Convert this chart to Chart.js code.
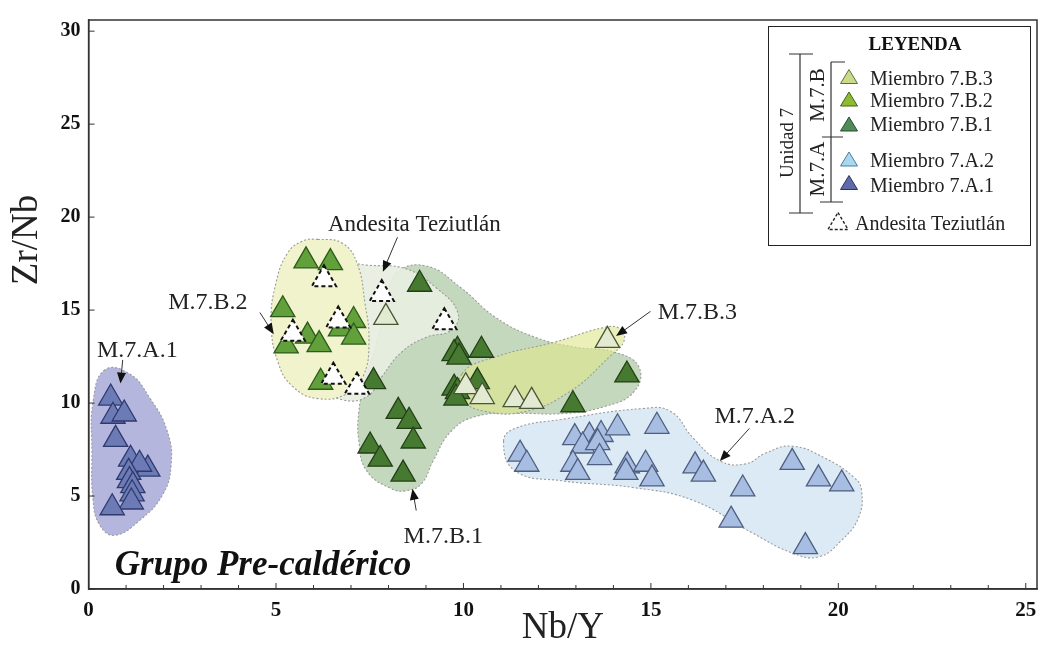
<!DOCTYPE html>
<html><head><meta charset="utf-8">
<script src="https://cdn.jsdelivr.net/npm/chart.js@4.4.1/dist/chart.umd.min.js"></script>
<style>html,body{margin:0;padding:0;background:#fff;}</style>
</head><body>
<canvas id="c" width="1053" height="654"></canvas>
<script>
// ---------- DATA ----------
const xTicks = [0, 5, 10, 15, 20, 25];
const yTicks = [0, 5, 10, 15, 20, 25, 30];
const seriesNames = ['Miembro 7.B.3', 'Miembro 7.B.2', 'Miembro 7.B.1', 'Miembro 7.A.2', 'Miembro 7.A.1', 'Andesita Teziutlán'];

const m7A1_x = [0.59, 0.65, 0.95, 0.72, 1.12, 1.58, 1.36, 1.07, 1.09, 1.18, 1.16, 1.14, 0.63];
const m7A1_y = [10.27, 9.29, 9.41, 8.05, 6.98, 6.45, 6.71, 6.27, 5.83, 5.56, 5.12, 4.68, 4.37];

const m7A2_x = [11.51, 11.69, 12.97, 13.36, 13.67, 14.11, 15.16, 13.18, 13.58, 13.63, 12.92, 13.05, 14.37, 14.33, 14.86, 15.03, 16.18, 16.40, 17.45, 17.14, 18.77, 19.47, 20.09, 19.12];
const m7A2_y = [7.25, 6.71, 8.14, 8.22, 8.31, 8.67, 8.75, 7.69, 7.87, 7.07, 6.71, 6.27, 6.62, 6.27, 6.71, 5.92, 6.62, 6.18, 5.38, 3.70, 6.81, 5.92, 5.65, 2.28];

const m7B1_x = [8.83, 9.84, 9.75, 9.88, 10.48, 7.60, 8.26, 8.55, 8.66, 7.51, 7.78, 8.39, 9.75, 9.84, 9.80, 10.37, 12.92, 14.36];
const m7B1_y = [16.39, 12.84, 12.66, 12.47, 12.84, 11.15, 9.55, 9.02, 7.96, 7.69, 6.98, 6.18, 10.80, 10.62, 10.27, 11.15, 9.91, 11.51];

const m7B2_x = [5.80, 6.45, 5.18, 5.27, 5.84, 6.15, 6.72, 7.07, 7.07, 6.19];
const m7B2_y = [17.65, 17.55, 15.02, 13.07, 13.60, 13.14, 13.99, 14.44, 13.55, 11.12];

const m7B3_x = [7.93, 10.06, 10.50, 11.38, 11.82, 13.84];
const m7B3_y = [14.61, 10.88, 10.35, 10.18, 10.09, 13.37];

const andes_x = [6.28, 5.45, 6.66, 6.53, 7.16, 7.82, 9.49];
const andes_y = [16.66, 13.73, 14.44, 11.42, 10.88, 15.86, 14.35];

// field outlines (data units)
const hullA1_x = [0.43, 0.12, 0.09, 0.12, 0.30, 0.70, 1.36, 1.96, 2.20, 2.10, 1.62, 1.09];
const hullA1_y = [11.78, 10.08, 7.42, 4.76, 3.43, 2.89, 3.69, 5.02, 6.62, 8.48, 10.31, 11.57];

const hullA2_x = [11.07, 11.38, 12.62, 14.81, 15.53, 16.13, 16.84, 17.53, 18.06, 18.77, 19.64, 20.43, 20.62, 20.54, 20.09, 19.48, 18.77, 17.72, 16.13, 14.55, 12.62, 11.38];
const hullA2_y = [7.95, 8.64, 9.12, 9.71, 9.55, 8.11, 6.89, 6.73, 7.31, 7.68, 7.04, 5.98, 5.29, 3.85, 2.63, 1.73, 1.94, 3.00, 4.76, 5.45, 5.82, 6.35];

const hullB1_x = [8.22, 9.01, 9.93, 10.86, 11.91, 12.97, 14.02, 14.68, 14.55, 13.76, 12.70, 11.38, 10.33, 9.67, 9.19, 8.88, 8.48, 8.08, 7.42, 7.21, 7.21, 7.37, 7.69, 7.95];
const hullB1_y = [17.00, 17.37, 16.20, 14.60, 13.54, 13.01, 12.74, 11.94, 10.61, 9.81, 9.44, 9.44, 9.28, 8.48, 6.88, 5.66, 5.29, 5.39, 6.35, 7.95, 9.55, 11.15, 13.28, 15.40];

const hullAnd_x = [6.24, 7.42, 8.48, 9.27, 9.85, 9.67, 9.01, 8.35, 7.82, 7.42, 6.76, 6.24, 6.11, 6.05];
const hullAnd_y = [17.63, 17.42, 17.21, 16.20, 14.87, 13.91, 13.54, 12.74, 11.41, 10.34, 10.18, 10.88, 13.81, 16.47];

const hullB2_x = [6.11, 6.77, 7.16, 7.37, 7.48, 7.32, 6.90, 6.11, 5.45, 5.05, 4.87, 5.00, 5.31, 5.71];
const hullB2_y = [18.80, 18.59, 17.53, 15.40, 13.27, 11.41, 10.50, 10.24, 10.88, 12.21, 14.34, 16.47, 18.07, 18.71];

const hullB3_x = [9.96, 10.86, 12.44, 13.76, 14.15, 14.29, 13.89, 12.83, 11.65, 10.59, 10.01];
const hullB3_y = [11.57, 12.48, 13.28, 14.07, 14.02, 13.38, 12.48, 10.61, 9.55, 9.55, 10.18];

// ---------- LAYOUT / STYLE ----------
const SERIF = '"Liberation Serif", "Times New Roman", serif';
const annotations = [
  {text: 'M.7.A.1', x: 1.30, y: 12.50, from: [0.91, 12.32], to: [0.85, 11.05], size: 24},
  {text: 'M.7.B.2', x: 3.18, y: 15.08, from: [4.57, 14.87], to: [4.94, 13.70], size: 24},
  {text: 'Andesita Teziutlán', x: 8.69, y: 19.24, from: [8.24, 18.92], to: [7.85, 17.06], size: 23},
  {text: 'M.7.B.3', x: 16.24, y: 14.50, from: [14.99, 14.93], to: [14.07, 13.60], size: 24},
  {text: 'M.7.A.2', x: 17.77, y: 8.93, from: [17.63, 8.64], to: [16.84, 6.88], size: 24},
  {text: 'M.7.B.1', x: 9.46, y: 2.46, from: [8.74, 4.22], to: [8.64, 5.39], size: 24}
];

const pts = (xs, ys) => xs.map((x, i) => ({x: x, y: ys[i]}));

function hull(xs, ys, color, order) {
  return {type: 'line', data: pts(xs, ys), backgroundColor: color, borderColor: '#9b9b9b',
    borderWidth: 1.1, borderDash: [2, 2], pointRadius: 0, pointHoverRadius: 0, tension: 0.45,
    fill: 'shape', spanGaps: true, order: order, isHull: true};
}
function series(label, xs, ys, fill, stroke, order, dashed) {
  return {type: 'scatter', label: label, data: pts(xs, ys), pointStyle: 'triangle', pointRadius: 14,
    pointHoverRadius: 14, backgroundColor: fill, borderColor: stroke, borderWidth: dashed ? 2 : 1.3,
    order: order, dashed: !!dashed};
}

const hullLoop = {
  id: 'hullLoop',
  afterDatasetsUpdate(chart) {
    chart.data.datasets.forEach((ds, i) => {
      if (ds.isHull) { const m = chart.getDatasetMeta(i); if (m.dataset) { m.dataset._loop = true; m.dataset._fullLoop = true; } }
    });
  }
};
const dashPts = {
  id: 'dashPts',
  beforeDatasetDraw(chart, args) { if (chart.data.datasets[args.index].dashed) { chart.ctx.save(); chart.ctx.setLineDash([4, 3]); } },
  afterDatasetDraw(chart, args) { if (chart.data.datasets[args.index].dashed) chart.ctx.restore(); }
};

function tri(ctx, cx, cy, w, h, fill, stroke, dash) {
  ctx.beginPath(); ctx.moveTo(cx, cy - h / 2); ctx.lineTo(cx + w / 2, cy + h / 2); ctx.lineTo(cx - w / 2, cy + h / 2); ctx.closePath();
  ctx.fillStyle = fill; ctx.fill(); ctx.setLineDash(dash || []); ctx.strokeStyle = stroke; ctx.lineWidth = dash ? 1.4 : 1; ctx.stroke(); ctx.setLineDash([]);
}
function arrow(ctx, x1, y1, x2, y2) {
  ctx.strokeStyle = '#333'; ctx.fillStyle = '#111'; ctx.lineWidth = 1;
  const a = Math.atan2(y2 - y1, x2 - x1), L = 11, W = 4.5;
  ctx.beginPath(); ctx.moveTo(x1, y1); ctx.lineTo(x2 - L * Math.cos(a) * 0.6, y2 - L * Math.sin(a) * 0.6); ctx.stroke();
  ctx.beginPath(); ctx.moveTo(x2, y2);
  ctx.lineTo(x2 - L * Math.cos(a) - W * Math.sin(a), y2 - L * Math.sin(a) + W * Math.cos(a));
  ctx.lineTo(x2 - L * Math.cos(a) + W * Math.sin(a), y2 - L * Math.sin(a) - W * Math.cos(a));
  ctx.closePath(); ctx.fill();
}
function vtext(ctx, text, x, y, size) {
  ctx.save(); ctx.translate(x, y); ctx.rotate(-Math.PI / 2);
  ctx.font = size + 'px ' + SERIF; ctx.textAlign = 'center'; ctx.textBaseline = 'middle'; ctx.fillStyle = '#222';
  ctx.fillText(text, 0, 0); ctx.restore();
}

const decor = {
  id: 'decor',
  afterDatasetsDraw(chart) {
    const ctx = chart.ctx, xs = chart.scales.x, ys = chart.scales.y, a = chart.chartArea;
    ctx.save();
    // annotations
    annotations.forEach(an => {
      ctx.font = an.size + 'px ' + SERIF; ctx.fillStyle = '#222'; ctx.textAlign = 'center'; ctx.textBaseline = 'alphabetic';
      ctx.fillText(an.text, xs.getPixelForValue(an.x), ys.getPixelForValue(an.y));
      arrow(ctx, xs.getPixelForValue(an.from[0]), ys.getPixelForValue(an.from[1]), xs.getPixelForValue(an.to[0]), ys.getPixelForValue(an.to[1]));
    });
    ctx.font = 'italic bold 35px ' + SERIF; ctx.textAlign = 'left'; ctx.fillStyle = '#111';
    ctx.fillText('Grupo Pre-caldérico', xs.getPixelForValue(0.70), ys.getPixelForValue(0.76));
    // frame
    ctx.strokeStyle = '#333'; ctx.lineWidth = 1.5;
    ctx.strokeRect(a.left, a.top, a.right - a.left, a.bottom - a.top);
    // inward ticks
    ctx.lineWidth = 1;
    for (let v = 0; v <= 25; v++) {
      const p = xs.getPixelForValue(v), len = v % 5 === 0 ? 6 : 4;
      ctx.beginPath(); ctx.moveTo(p, a.bottom); ctx.lineTo(p, a.bottom - len); ctx.stroke();
    }
    yTicks.forEach(v => { const p = ys.getPixelForValue(v); ctx.beginPath(); ctx.moveTo(a.left, p); ctx.lineTo(a.left + 6, p); ctx.stroke(); });
    // y axis title
    ctx.save(); ctx.translate(27, 240); ctx.rotate(-Math.PI / 2);
    ctx.font = '37px ' + SERIF; ctx.fillStyle = '#222'; ctx.textAlign = 'center'; ctx.textBaseline = 'middle';
    ctx.fillText('Zr/Nb', 0, 0); ctx.restore();
    // legend box
    ctx.strokeStyle = '#222'; ctx.lineWidth = 1;
    ctx.strokeRect(768.5, 26.5, 262, 219);
    ctx.font = 'bold 19px ' + SERIF; ctx.textAlign = 'center'; ctx.fillStyle = '#111';
    ctx.fillText('LEYENDA', 915, 50);
    const items = [
      {fill: '#c9da8c', stroke: '#5f7034', cy: 76.5, ty: 85},
      {fill: '#8dbb2f', stroke: '#44621a', cy: 99, ty: 107},
      {fill: '#4f8c58', stroke: '#2a4d2f', cy: 124, ty: 131},
      {fill: '#a8d8f0', stroke: '#4c7c9c', cy: 159, ty: 167},
      {fill: '#5f6aa8', stroke: '#2b3266', cy: 182.5, ty: 192}
    ];
    ctx.textAlign = 'left'; ctx.font = '20px ' + SERIF; ctx.fillStyle = '#222';
    items.forEach((it, i) => { tri(ctx, 849, it.cy, 17, 14, it.fill, it.stroke); ctx.fillStyle = '#222'; ctx.fillText(seriesNames[i], 870, it.ty); });
    tri(ctx, 838, 221, 20, 17, '#fff', '#222', [3, 2]);
    ctx.fillStyle = '#222'; ctx.fillText(seriesNames[5], 855, 230);
    // brackets
    ctx.strokeStyle = '#333'; ctx.lineWidth = 1.2;
    ctx.beginPath();
    ctx.moveTo(800, 54); ctx.lineTo(800, 213);
    ctx.moveTo(789, 54); ctx.lineTo(813, 54);
    ctx.moveTo(789, 213); ctx.lineTo(813, 213);
    ctx.moveTo(831, 62); ctx.lineTo(831, 202);
    ctx.moveTo(831, 62); ctx.lineTo(845, 62);
    ctx.moveTo(822, 137); ctx.lineTo(843, 137);
    ctx.moveTo(820, 202); ctx.lineTo(843, 202);
    ctx.stroke();
    vtext(ctx, 'Unidad 7', 788, 143, 19);
    vtext(ctx, 'M.7.B', 818, 95, 21);
    vtext(ctx, 'M.7.A', 818, 169, 21);
    ctx.restore();
  }
};

const datasets = [
  series(seriesNames[5], andes_x, andes_y, '#ffffff', '#111111', 1, true),
  series(seriesNames[0], m7B3_x, m7B3_y, '#e2ead1', '#4a5638', 2),
  series(seriesNames[1], m7B2_x, m7B2_y, '#62a03c', '#2c5a1a', 3),
  series(seriesNames[2], m7B1_x, m7B1_y, '#467a31', '#233f18', 4),
  series(seriesNames[3], m7A2_x, m7A2_y, '#a7bde2', '#4f5f80', 5),
  series(seriesNames[4], m7A1_x, m7A1_y, '#6c7bb5', '#2e3a6e', 5),
  hull(hullA1_x, hullA1_y, 'rgba(176,178,220,0.95)', 15),
  hull(hullA2_x, hullA2_y, 'rgba(218,233,246,0.95)', 15),
  hull(hullB3_x, hullB3_y, 'rgba(222,230,140,0.62)', 16),
  hull(hullB2_x, hullB2_y, 'rgba(240,243,204,1)', 17),
  hull(hullAnd_x, hullAnd_y, 'rgba(231,238,224,0.93)', 18),
  hull(hullB1_x, hullB1_y, 'rgba(196,216,190,1)', 19)
];

const axisFont = {family: SERIF, size: 20, weight: 'bold'};
new Chart(document.getElementById('c'), {
  type: 'scatter',
  data: {datasets: datasets},
  plugins: [hullLoop, dashPts, decor],
  options: {
    responsive: false, animation: false, devicePixelRatio: 1,
    layout: {padding: {left: 0, top: 15, right: 5, bottom: 0}},
    plugins: {legend: {display: false}, tooltip: {enabled: false}},
    events: [],
    scales: {
      x: {
        type: 'linear', min: 0, max: 25.3,
        afterFit: s => { s.height = 65; },
        afterBuildTicks: s => { s.ticks = xTicks.map(v => ({value: v})); },
        ticks: {font: {family: SERIF, size: 21, weight: 'bold'}, color: '#111', padding: 9, includeBounds: false, maxRotation: 0, autoSkip: false},
        grid: {display: true, drawOnChartArea: false, drawTicks: false},
        border: {display: true, color: '#333', width: 1.5},
        title: {display: true, text: 'Nb/Y', font: {family: SERIF, size: 37}, color: '#222', padding: {top: 0, bottom: 4}}
      },
      y: {
        type: 'linear', min: 0, max: 30.6,
        afterFit: s => { s.width = 88.6; },
        afterBuildTicks: s => { s.ticks = yTicks.map(v => ({value: v})); },
        ticks: {font: axisFont, color: '#111', padding: 8, includeBounds: false, autoSkip: false},
        grid: {display: true, drawOnChartArea: false, drawTicks: false},
        border: {display: true, color: '#333', width: 1.5},
        title: {display: false}
      }
    }
  }
});
</script>
</body></html>
